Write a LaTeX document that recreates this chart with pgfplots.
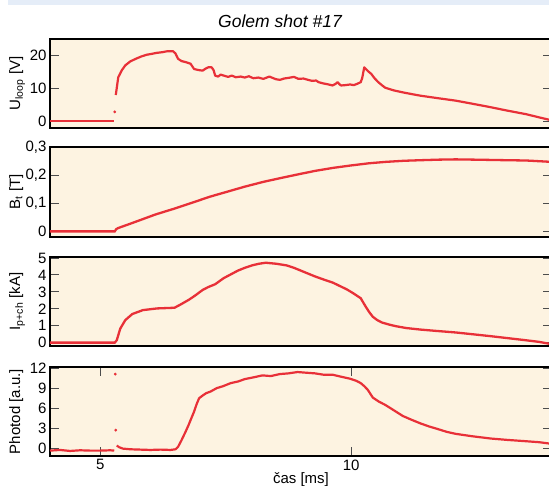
\documentclass[border=0pt]{standalone}
\usepackage{fontspec}
\setmainfont{Liberation Sans}
\usepackage{pgfplots}
\pgfplotsset{compat=1.18}

\definecolor{bgcol}{RGB}{253,243,225}
\definecolor{trace}{RGB}{232,48,56}
\definecolor{band}{RGB}{229,237,248}

\pgfplotsset{golem/.style={
  scale only axis, width=502pt, anchor=south west,
  xmin=4, xmax=14,
  axis background/.style={fill=bgcol},
  axis line style={line width=1.2pt, black},
  tick align=inside, ytick pos=both, major tick length=9pt,
  tick style={line width=0.9pt, black!70},
  xtick=\empty,
  tick label style={font=\fontsize{15}{17}\selectfont},
  label style={font=\fontsize{15}{17}\selectfont},
  /pgf/number format/assume math mode=true,
  /pgf/number format/use comma,
  ylabel style={at={(axis description cs:-0.088,0.5)}, anchor=north},
  cycle list={{trace, no markers, line width=2.3pt}},
}}

\begin{document}
\begin{tikzpicture}
\path[use as bounding box] (0,0) rectangle (549pt,486pt);
\fill[band] (8pt,481pt) rectangle (549pt,486pt);
\node[font=\fontsize{17.5}{20}\selectfont\itshape] at (280pt,465pt) {Golem shot \#17};

% U_loop
\begin{axis}[golem, at={(50pt,358pt)}, height=89pt,
  ymin=-2, ymax=25, ytick={0,10,20},
  ylabel={U\textsubscript{loop} [V]}]
\addplot[trace, line width=2.4pt] coordinates {(4,0.1) (5.28,0.1)};
\addplot[trace, only marks, mark=*, mark size=1.2pt] coordinates {(5.29,2.9)};
\addplot[trace, line width=2.2pt, line join=round] coordinates {
(5.31,8.0) (5.36,13.4) (5.43,15.5) (5.50,17.0) (5.60,18.2) (5.71,19.0) (5.82,19.7)
(5.92,20.2) (6.03,20.5) (6.13,20.8) (6.24,21.0) (6.34,21.3) (6.45,21.3) (6.50,20.6)
(6.55,19.0) (6.62,18.3) (6.70,18.0) (6.80,17.5) (6.87,15.9) (6.95,15.6) (7.04,15.4)
(7.10,16.0) (7.15,16.4) (7.22,16.4) (7.26,15.5) (7.29,13.9) (7.35,13.6) (7.40,14.2)
(7.46,13.9) (7.55,13.5) (7.62,13.9) (7.70,13.4) (7.80,13.6) (7.88,13.3) (7.96,13.7)
(8.05,13.1) (8.15,13.3) (8.25,12.9) (8.37,13.6) (8.45,13.1) (8.50,12.8) (8.58,12.6)
(8.66,13.0) (8.75,13.2) (8.86,13.5) (8.95,12.9) (9.05,13.0) (9.14,12.6) (9.22,12.3)
(9.30,12.4) (9.35,11.9) (9.45,11.5) (9.55,11.2) (9.63,10.9) (9.69,11.4) (9.73,11.9)
(9.77,11.2) (9.80,10.9) (9.88,11.0) (9.98,11.2) (10.05,11.0) (10.12,11.4) (10.19,11.9)
(10.22,13.2) (10.26,16.4) (10.33,15.3) (10.40,14.4) (10.47,13.0) (10.54,11.9)
(10.61,11.0) (10.68,10.2) (10.85,9.4) (11.03,8.8) (11.20,8.3) (11.38,7.8) (11.70,7.1)
(12.08,6.3) (12.40,5.4) (12.78,4.3) (13.10,3.3) (13.48,2.2) (13.75,1.2) (14.0,0.3)
};
\end{axis}

% B_t
\begin{axis}[golem, at={(50pt,249pt)}, height=90pt,
  ymin=-0.02, ymax=0.3, ytick={0,0.1,0.2,0.3},
  ylabel={B\textsubscript{t} [T]}]
\addplot[trace, line width=2.3pt] coordinates {
(4,0) (5.29,0) (5.32,0.008) (5.36,0.012) (5.55,0.024) (5.78,0.039) (6.10,0.060)
(6.48,0.081) (6.85,0.103) (7.18,0.123) (7.55,0.142) (7.88,0.159) (8.25,0.176)
(8.58,0.189) (8.95,0.203) (9.28,0.215) (9.65,0.226) (9.98,0.234) (10.35,0.242)
(10.68,0.247) (11.05,0.251) (11.38,0.253) (11.75,0.255) (12.08,0.256) (12.45,0.255)
(12.78,0.254) (13.10,0.253) (13.48,0.252) (14.0,0.247)
};
\end{axis}

% I_p+ch
\begin{axis}[golem, at={(50pt,140pt)}, height=89pt,
  ymin=-0.2, ymax=5.06, ytick={0,1,2,3,4,5},
  ylabel={I\textsubscript{p+ch} [kA]}]
\addplot[trace, line width=2.3pt] coordinates {
(4,0) (5.29,0) (5.33,0.14) (5.40,0.83) (5.50,1.33) (5.64,1.69) (5.85,1.92) (6.13,2.02)
(6.48,2.06) (6.60,2.25) (6.76,2.52) (6.90,2.80) (7.04,3.11) (7.15,3.28) (7.29,3.45)
(7.46,3.81) (7.60,4.03) (7.74,4.25) (7.88,4.42) (8.02,4.56) (8.16,4.66) (8.30,4.72)
(8.51,4.66) (8.72,4.56) (8.86,4.42) (9.00,4.25) (9.14,4.08) (9.28,3.91) (9.45,3.73)
(9.63,3.55) (9.77,3.35) (9.91,3.15) (10.05,2.90) (10.19,2.62) (10.29,2.12)
(10.36,1.80) (10.43,1.53) (10.52,1.33) (10.61,1.19) (10.75,1.07) (10.89,0.97)
(11.10,0.86) (11.38,0.77) (11.70,0.69) (12.08,0.60) (12.40,0.50) (12.78,0.38)
(13.10,0.27) (13.48,0.14) (13.75,0.04) (14.0,-0.1)
};
\end{axis}

% Photodiode
\begin{axis}[golem, at={(50pt,30pt)}, height=89pt,
  ymin=-1.1, ymax=12.15, ytick={0,3,6,9,12},
  xtick={5,10}, xtick pos=both, xticklabel pos=bottom,
  ylabel={Photod [a.u.]},
  xlabel={čas [ms]},
  xlabel style={at={(axis description cs:0.5,0)}, anchor=center, yshift=-24pt}]
\addplot[trace, line width=2.2pt] coordinates {
(4,-0.3) (4.2,-0.2) (4.4,-0.35) (4.6,-0.25) (4.8,-0.3) (5.0,-0.3) (5.2,-0.25) (5.28,-0.3)
};
\addplot[trace, only marks, mark=*, mark size=1.2pt] coordinates {(5.30,11.1) (5.31,2.75)};
\addplot[trace, line width=2.2pt, line join=round] coordinates {
(5.33,0.45) (5.38,0.2) (5.45,0.0) (5.6,-0.1) (5.8,-0.15) (6.0,-0.2) (6.2,-0.15)
(6.4,-0.2) (6.5,-0.1) (6.55,0.25) (6.62,1.25) (6.7,2.5) (6.76,3.5) (6.82,4.6)
(6.87,5.5) (6.92,6.6) (6.97,7.5) (7.04,7.9) (7.11,8.25) (7.2,8.5) (7.32,9.0)
(7.45,9.3) (7.6,9.75) (7.75,10.0) (7.88,10.35) (8.05,10.6) (8.23,10.9) (8.4,10.8)
(8.58,11.1) (8.75,11.2) (8.93,11.4) (9.1,11.3) (9.28,11.2) (9.45,11.0) (9.63,11.0)
(9.8,10.7) (9.98,10.4) (10.1,10.1) (10.19,9.75) (10.26,9.3) (10.33,8.75) (10.43,7.6)
(10.55,7.0) (10.68,6.5) (10.85,5.7) (11.03,4.85) (11.2,4.3) (11.38,3.75) (11.55,3.3)
(11.73,2.9) (11.9,2.5) (12.08,2.2) (12.4,1.85) (12.78,1.5) (13.1,1.3) (13.48,1.1)
(13.75,0.95) (14.0,0.7)
};
\end{axis}
\end{tikzpicture}
\end{document}
